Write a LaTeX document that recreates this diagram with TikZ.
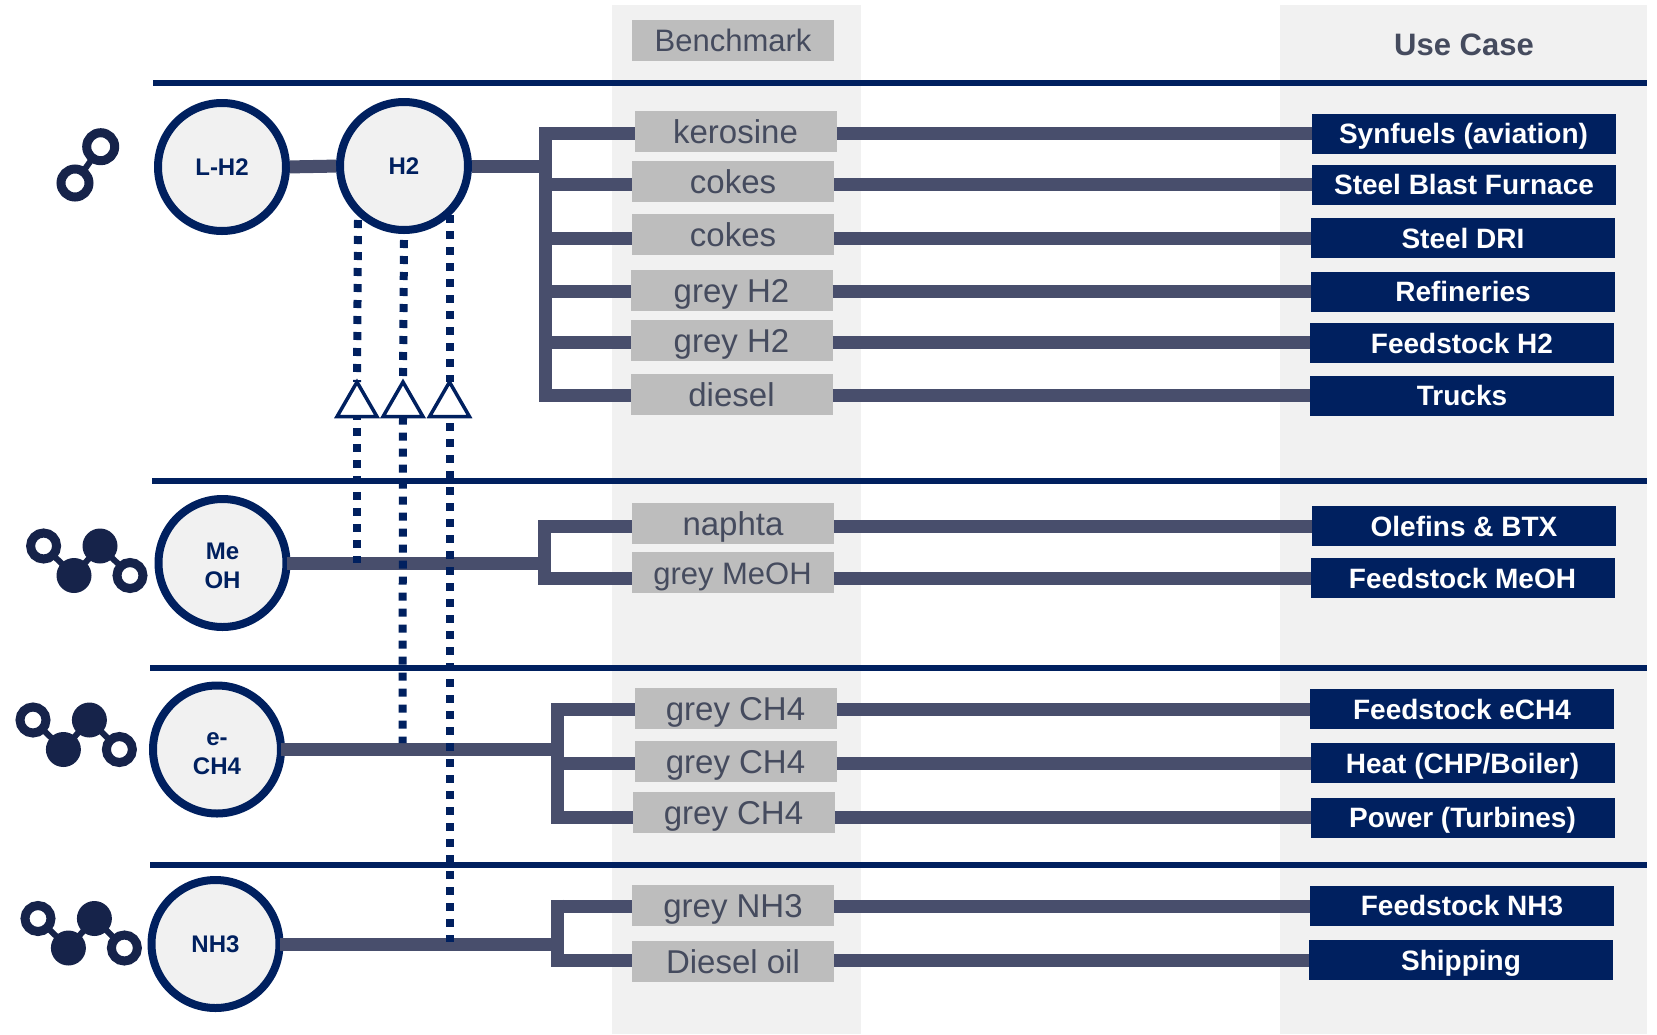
\documentclass[tikz,border=0pt]{standalone}
\usepackage{fontspec}
\setmainfont{Liberation Sans}
\usetikzlibrary{shapes.geometric}

\definecolor{navy}{HTML}{00205F}
\definecolor{trunkgrey}{HTML}{484E6C}
\definecolor{panelgrey}{HTML}{F1F1F1}
\definecolor{boxgrey}{HTML}{BDBDBD}
\definecolor{labelgrey}{HTML}{454B5E}
\definecolor{icondark}{HTML}{16234A}

\tikzset{
    carrier/.style={ellipse, draw=navy, line width=8pt, fill=panelgrey, inner sep=0pt, outer sep=0pt,
        minimum width=128pt, minimum height=128pt, align=center, text=navy,
        font=\fontsize{24}{29}\selectfont\bfseries},
    benchbox/.style={fill=boxgrey, inner sep=0pt, outer sep=0pt, minimum width=202pt, minimum height=41pt,
        text=labelgrey, text height=24.5pt, text depth=0pt, font=\fontsize{33}{36}\selectfont},
    usebox/.style={fill=navy, inner sep=0pt, outer sep=0pt, minimum width=304pt, minimum height=40pt,
        text=white, text height=20.5pt, text depth=0pt, font=\fontsize{28}{32}\selectfont\bfseries},
    valve/.style={regular polygon, regular polygon sides=3, draw=navy, line width=3.5pt, fill=white,
        inner sep=0pt, outer sep=0pt, minimum size=46pt},
    feed/.style={draw=trunkgrey, line width=13pt},
    rule/.style={draw=navy, line width=6pt},
    tap/.style={draw=navy, line width=8pt, dash pattern=on 8pt off 8pt},
    pics/molecule/.style={code={
        \draw[icondark, line width=6pt] (0,0) -- (30.4,29.5) -- (56.4,0) -- (86.4,29.5);
        \draw[icondark, line width=9pt, fill=white] (0,0) circle[radius=13];
        \fill[icondark] (30.4,29.5) circle[radius=17.5];
        \fill[icondark] (56.4,0) circle[radius=17.5];
        \draw[icondark, line width=9pt, fill=white] (86.4,29.5) circle[radius=13];
    }}
}

\begin{document}
\begin{tikzpicture}[x=1pt, y=-1pt]
    \useasboundingbox (0,0) rectangle (1657,1034);
    % Panels and rules:
    \fill[panelgrey] (612,5) rectangle (861,1034);
    \fill[panelgrey] (1280,5) rectangle (1647,1034);
    \draw[rule] (153,83) -- (1647,83);
    \draw[rule] (152,481) -- (1647,481);
    \draw[rule] (150,668) -- (1647,668);
    \draw[rule] (150,864.5) -- (1647,864.5);
    % Headers:
    \node[benchbox, text height=22pt, font=\fontsize{31}{34}\selectfont] (benchmark) at (733,40.5) {Benchmark};
    \node[text=labelgrey, font=\fontsize{31}{34}\selectfont\bfseries] (usecase) at (1464,44.5) {Use Case};
    % Carriers:
    \node[carrier] (lh2) at (222,167) {L-H2};
    \node[carrier] (h2) at (404,166) {H2};
    \node[carrier] (meoh) at (222.5,563) {\rule{0pt}{21.5pt}Me\\OH};
    \node[carrier] (ech4) at (217,749.5) {\rule{0pt}{21pt}e-\\CH4};
    \node[carrier] (nh3) at (215.5,944) {NH3};
    % Benchmark boxes:
    \node[benchbox] (kerosine) at (735.5,131.5) {kerosine};
    \node[benchbox] (cokesa) at (733,181.5) {cokes};
    \node[benchbox] (cokesb) at (733,234.5) {cokes};
    \node[benchbox] (greya) at (731.5,290) {grey H2};
    \node[benchbox] (greyb) at (731.5,340.5) {grey H2};
    \node[benchbox] (diesel) at (731.5,394) {diesel};
    \node[benchbox] (naphta) at (733,523) {naphta};
    \node[benchbox, font=\fontsize{31}{36}\selectfont] (greymeoh) at (732.5,572) {grey MeOH};
    \node[benchbox] (greyc) at (735.5,708) {grey CH4};
    \node[benchbox] (greyd) at (735.5,761) {grey CH4};
    \node[benchbox] (greye) at (733.5,812) {grey CH4};
    \node[benchbox] (greynh) at (733,905) {grey NH3};
    \node[benchbox] (dieseloil) at (733,961) {Diesel oil};
    % Use case boxes:
    \node[usebox] (synfuels) at (1463.5,133.5) {Synfuels (aviation)};
    \node[usebox] (blast) at (1464,184.5) {Steel Blast Furnace};
    \node[usebox] (dri) at (1463,238) {Steel DRI};
    \node[usebox] (refineries) at (1463,291.5) {Refineries};
    \node[usebox] (feedh) at (1462,343) {Feedstock H2};
    \node[usebox] (trucks) at (1462,395.5) {Trucks};
    \node[usebox] (olefins) at (1464,526) {Olefins \& BTX};
    \node[usebox] (feedmeoh) at (1462.5,578) {Feedstock MeOH};
    \node[usebox] (feedch) at (1462,709) {Feedstock eCH4};
    \node[usebox] (heat) at (1462.5,763) {Heat (CHP/Boiler)};
    \node[usebox] (power) at (1462.5,817.5) {Power (Turbines)};
    \node[usebox] (feednh) at (1462,905.5) {Feedstock NH3};
    \node[usebox] (shipping) at (1461,960) {Shipping};
    % Bus bars:
    \coordinate (busa) at (545.5,166);
    \coordinate (busb) at (544,563);
    \coordinate (busc) at (557,749.5);
    \coordinate (busd) at (557,944);
    \draw[feed] (busa |- 0,127) -- (busa |- 0,401.5);
    \draw[feed] (busb |- 0,520) -- (busb |- 0,584.5);
    \draw[feed] (busc |- 0,703) -- (busc |- 0,823.5);
    \draw[feed] (busd |- 0,899.5) -- (busd |- 0,966.5);
    \draw[feed, shorten <=4pt, shorten >=4pt] (lh2.east) -- (h2.west);
    \draw[feed, shorten <=4pt] (h2.east) -- (busa);
    \draw[feed] (meoh.east) -- (busb);
    \draw[feed] (ech4.east) -- (busc);
    \draw[feed] (nh3.east) -- (busd);
    % Rows, left stub and long run:
    \draw[feed] (busa |- 0,133) -- (kerosine.west |- 0,133) (kerosine.east |- 0,133) -- (synfuels.west |- 0,133);
    \draw[feed] (busa |- 0,184) -- (cokesa.west |- 0,184) (cokesa.east |- 0,184) -- (blast.west |- 0,184);
    \draw[feed] (busa |- 0,238) -- (cokesb.west |- 0,238) (cokesb.east |- 0,238) -- (dri.west |- 0,238);
    \draw[feed] (busa |- 0,291) -- (greya.west |- 0,291) (greya.east |- 0,291) -- (refineries.west |- 0,291);
    \draw[feed] (busa |- 0,342.5) -- (greyb.west |- 0,342.5) (greyb.east |- 0,342.5) -- (feedh.west |- 0,342.5);
    \draw[feed] (busa |- 0,395) -- (diesel.west |- 0,395) (diesel.east |- 0,395) -- (trucks.west |- 0,395);
    \draw[feed] (busb |- 0,526) -- (naphta.west |- 0,526) (naphta.east |- 0,526) -- (olefins.west |- 0,526);
    \draw[feed] (busb |- 0,578) -- (greymeoh.west |- 0,578) (greymeoh.east |- 0,578) -- (feedmeoh.west |- 0,578);
    \draw[feed] (busc |- 0,709) -- (greyc.west |- 0,709) (greyc.east |- 0,709) -- (feedch.west |- 0,709);
    \draw[feed] (busc |- 0,763) -- (greyd.west |- 0,763) (greyd.east |- 0,763) -- (heat.west |- 0,763);
    \draw[feed] (busc |- 0,817) -- (greye.west |- 0,817) (greye.east |- 0,817) -- (power.west |- 0,817);
    \draw[feed] (busd |- 0,906) -- (greynh.west |- 0,906) (greynh.east |- 0,906) -- (feednh.west |- 0,906);
    \draw[feed] (busd |- 0,960) -- (dieseloil.west |- 0,960) (dieseloil.east |- 0,960) -- (shipping.west |- 0,960);
    % Dotted taps and their triangles:
    \coordinate (tapa) at (358,220);
    \coordinate (tapb) at (404,240);
    \coordinate (tapc) at (449.5,215);
    \node[valve] (valvea) at (357,405) {};
    \node[valve] (valveb) at (403,405) {};
    \node[valve] (valvec) at (449.5,405) {};
    \coordinate (enda) at (357,563);
    \coordinate (endb) at (402.5,743);
    \coordinate (endc) at (449.5,942);
    \draw[tap] (tapa) -- (valvea.north);
    \draw[tap] (tapb) -- (valveb.north);
    \draw[tap] (tapc) -- (valvec.north);
    \draw[tap, dash phase=4.5pt] (valvea.south) -- (enda);
    \draw[tap] (valveb.south) -- (endb);
    \draw[tap, dash phase=9.5pt] (valvec.south) -- (endc);
    % Icons:
    \draw[icondark, line width=6pt] (100.7,146.7) -- (75,183);
    \draw[icondark, line width=9pt, fill=white] (100.7,146.7) circle[radius=14];
    \draw[icondark, line width=9pt, fill=white] (75,183) circle[radius=14];
    \pic at (43.6,546) {molecule};
    \pic at (33,720) {molecule};
    \pic at (38,918.5) {molecule};
\end{tikzpicture}
\end{document}
